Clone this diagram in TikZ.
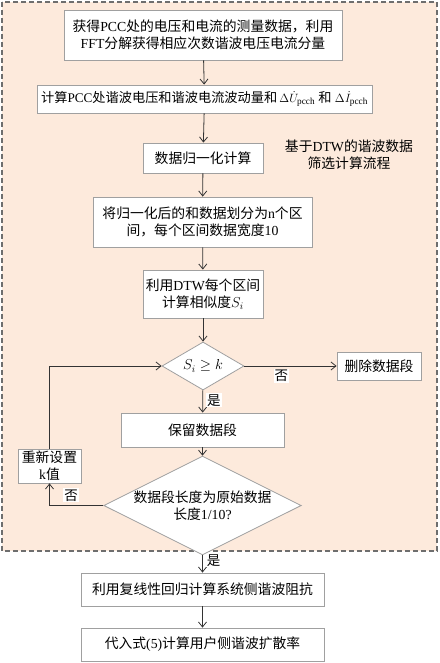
\documentclass[tikz,border=0pt]{standalone}
\usepackage{fontspec}
\setmainfont{Liberation Serif}
\newfontfamily\cjk{Noto Sans CJK SC}
\usetikzlibrary{arrows.meta,shapes.geometric}
\definecolor{bgpeach}{HTML}{FDEADC}
\definecolor{boxline}{HTML}{A0A0A0}
\definecolor{arrline}{HTML}{333333}
\definecolor{dashline}{HTML}{6E6E6E}
\tikzset{
  x=1pt,y=-1pt,
  stepbox/.style={draw=boxline,fill=white,line width=0.8pt,align=center,inner sep=2pt,font=\fontsize{13.8}{17}\selectfont},
  decide/.style={diamond,aspect=2,draw=boxline,fill=white,line width=0.8pt,align=center,inner sep=0pt,font=\fontsize{13.8}{17}\selectfont},
  flow/.style={draw=arrline,line width=0.8pt,-{Straight Barb[length=5pt,width=8pt]}},
  lbl/.style={fill=white,inner sep=1pt,font=\cjk\fontsize{13.5}{15}\selectfont},
}
\begin{document}
\begin{tikzpicture}
\useasboundingbox (0,0) rectangle (439,663);
% background dashed region
\draw[dashline,dashed,line width=1.2pt,fill=bgpeach,dash pattern=on 5pt off 3pt] (2,2) rectangle (437,551);

\node[stepbox,minimum width=278,minimum height=50] (b1) at (203,35)
  {{\cjk 获得}PCC{\cjk 处的电压和电流的测量数据，利用}\\FFT{\cjk 分解获得相应次数谐波电压电流分量}};
\node[stepbox,minimum width=335,minimum height=28,inner sep=1pt] (b2) at (204.5,99)
  {\fontsize{13.2}{15}\selectfont{\cjk 计算}PCC{\cjk 处谐波电压和谐波电流波动量和}\,$\Delta\dot{U}_{\mathrm{pcch}}$\ {\cjk 和}\ $\Delta\dot{I}_{\mathrm{pcch}}$};
\node[stepbox,minimum width=120,minimum height=30] (b3) at (203,158)
  {\cjk 数据归一化计算};
\node[align=center,font=\fontsize{13.8}{17}\selectfont] (title) at (349,155)
  {{\cjk 基于}DTW{\cjk 的谐波数据}\\{\cjk 筛选计算流程}};
\node[stepbox,minimum width=219,minimum height=50] (b4) at (202.5,222)
  {{\cjk 将归一化后的和数据划分为}n{\cjk 个区}\\{\cjk 间，每个区间数据宽度}10};
\node[stepbox,minimum width=120,minimum height=48] (b5) at (203,294)
  {{\cjk 利用}DTW{\cjk 每个区间}\\{\cjk 计算相似度}$S_i$};
\node[decide,minimum width=82,minimum height=48] (d1) at (203,366) {$S_i\geq k$};
\node[stepbox,minimum width=84,minimum height=28] (del) at (379,366) {\cjk 删除数据段};
\node[stepbox,minimum width=163,minimum height=34] (keep) at (202.5,430) {\cjk 保留数据段};
\node[stepbox,minimum width=63,minimum height=34,inner sep=1pt] (reset) at (49.5,466)
  {{\cjk 重新设置}\\k{\cjk 值}};
\node[decide,minimum width=191,minimum height=67] (d2) at (202.5,505.5)
  {{\cjk 数据段长度为原始数据}\\{\cjk 长度}1/10?};
\node[stepbox,minimum width=243,minimum height=33] (b6) at (202.5,589.5)
  {\cjk 利用复线性回归计算系统侧谐波阻抗};
\node[stepbox,minimum width=243,minimum height=33] (b7) at (202.5,644.5)
  {{\cjk 代入式}(5){\cjk 计算用户侧谐波扩散率}};

\draw[flow] (b1) -- (b2);
\draw[flow] (b2) -- (b3);
\draw[flow] (b3) -- (b4);
\draw[flow] (b4) -- (b5);
\draw[flow] (b5) -- (d1);
\draw[flow] (d1) -- node[lbl,pos=0.4,below=3pt] {否} (del);
\draw[flow] (d1) -- node[lbl,right=3pt,pos=0.45] {是} (keep);
\draw[flow] (keep) -- (d2);
\draw[flow] (d2.west) -| node[lbl,pos=0.3,above=3pt] {否} (reset.south);
\draw[flow] (reset.north) |- (d1.west);
\draw[flow] (d2) -- node[lbl,right=3pt,pos=0.3] {是} (b6);
\draw[flow] (b6) -- (b7);
\end{tikzpicture}
\end{document}
